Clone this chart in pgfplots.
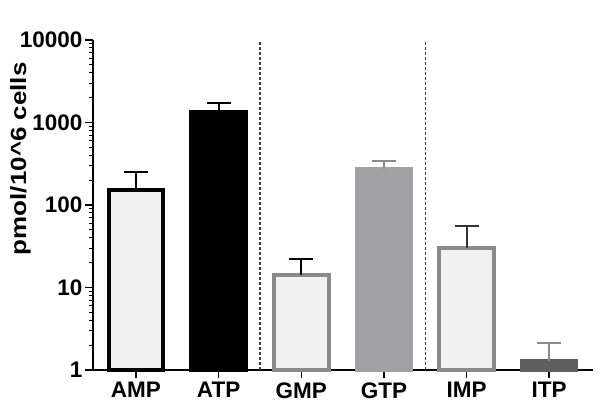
\documentclass[border=0pt]{standalone}
\usepackage{fontspec}
\setmainfont{Liberation Sans}
\usepackage{pgfplots}
\pgfplotsset{compat=1.18}

\definecolor{outlinegray}{HTML}{8A8A8A}
\definecolor{gtpgray}{HTML}{A1A1A5}
\definecolor{itpgray}{HTML}{5F5F5F}
\definecolor{stipple}{HTML}{F1F1F1}

\begin{document}
\begin{tikzpicture}
\begin{axis}[
  scale only axis,
  width=500pt, height=330pt,
  ymode=log, ymin=1, ymax=10000,
  xmin=-0.52, xmax=5.53,
  axis x line=bottom, axis y line=left,
  axis line style={-, line width=2pt},
  ybar, bar width=0.66, bar shift=0pt,
  xtick={0,1,2,3,4,5},
  xticklabels={AMP,ATP,GMP,GTP,IMP,ITP},
  ytick={1,10,100,1000,10000},
  yticklabels={1,10,100,1000,10000},
  tick align=outside,
  major tick length=8pt, minor tick length=4pt,
  tick style={line width=1.5pt, black},
  minor tick style={line width=1pt},
  /pgf/number format/assume math mode=true,
  tick label style={font=\fontsize{22.5}{26}\selectfont\bfseries},
  yticklabel style={xshift=1pt},
  xticklabel style={yshift=-1pt},
  ylabel={\scalebox{1.18}[1]{pmol/10\textasciicircum 6 cells}},
  ylabel style={font=\fontsize{22}{26}\selectfont\bfseries,
    at={(rel axis cs:-0.145,0.64)}, anchor=center},
  clip=false,
  error bars/y dir=plus, error bars/y explicit,
]
% AMP
\addplot[draw=black, fill=stipple, line width=4pt,
  error bars/error bar style={line width=2pt, black},
  error bars/error mark options={rotate=90, mark size=12pt, line width=2pt, black}]
  coordinates {(0,150) +- (0,102)};
% ATP
\addplot[draw=black, fill=black, line width=4pt,
  error bars/error bar style={line width=2pt, black},
  error bars/error mark options={rotate=90, mark size=12pt, line width=2pt, black}]
  coordinates {(1,1320) +- (0,420)};
% GMP
\addplot[draw=outlinegray, fill=stipple, line width=4pt,
  error bars/error bar style={line width=2pt, black},
  error bars/error mark options={rotate=90, mark size=12pt, line width=2pt, black}]
  coordinates {(2,14) +- (0,8.4)};
% GTP
\addplot[draw=gtpgray, fill=gtpgray, line width=4pt,
  error bars/error bar style={line width=2pt, outlinegray},
  error bars/error mark options={rotate=90, mark size=12pt, line width=2pt, outlinegray}]
  coordinates {(3,270) +- (0,68)};
% IMP
\addplot[draw=outlinegray, fill=stipple, line width=4pt,
  error bars/error bar style={line width=2pt, black!80},
  error bars/error mark options={rotate=90, mark size=12pt, line width=2pt, black!80}]
  coordinates {(4,30) +- (0,25)};
% ITP
\addplot[draw=itpgray, fill=itpgray, line width=4pt,
  error bars/error bar style={line width=2pt, outlinegray},
  error bars/error mark options={rotate=90, mark size=12pt, line width=2pt, outlinegray}]
  coordinates {(5,1.3) +- (0,0.81)};
\draw[black!75, line width=1.2pt, dash pattern=on 3pt off 2pt] (axis cs:1.5,1) -- (axis cs:1.5,10000);
\draw[black!75, line width=1.2pt, dash pattern=on 3pt off 2pt] (axis cs:3.5,1) -- (axis cs:3.5,10000);
\path (rel axis cs:-0.186,-0.112) rectangle (rel axis cs:1.022,1.121);
\end{axis}
\end{tikzpicture}
\end{document}
